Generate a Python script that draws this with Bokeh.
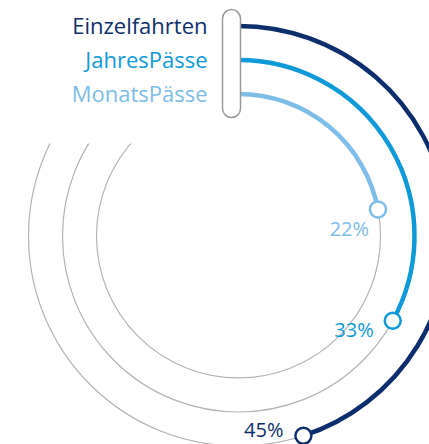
import math
from bokeh.plotting import figure
from bokeh.models import Range1d
from bokeh.core.properties import value
from bokeh.embed import file_html
from bokeh.resources import INLINE

# ---- data ----
categories = ["Einzelfahrten", "JahresPässe", "MonatsPässe"]
shares = [45, 33, 22]          # percent
pct_labels = ["45%", "33%", "22%"]
colors = ["#0d2e6c", "#0e9ad8", "#7dbde8"]

# ---- layout (pixels) ----
W, H = 429, 444
cx_px, cy_px = 238, 235.5       # circle centre inside the figure
radii = [210, 176, 142]
track_color = "#b3b3b3"
FONT = "Open Sans"

p = figure(width=W, height=H, output_backend="svg", toolbar_location=None,
           x_range=Range1d(-cx_px, W - cx_px), y_range=Range1d(-(H - cy_px), cy_px),
           min_border=0, outline_line_color=None)
p.axis.visible = False
p.grid.visible = False
p.background_fill_color = "white"
p.border_fill_color = "white"

# grey tracks (full circles, top-left hidden by a white mask)
for r in radii:
    p.circle(x=0, y=0, radius=r, fill_color=None, line_color=track_color, line_width=1.2)
mask_top_px = 143  # tracks become visible below this screen row
p.quad(left=-cx_px - 5, right=0, bottom=cy_px - mask_top_px, top=cy_px + 5,
       fill_color="white", line_color=None)

# coloured value arcs
for r, s, c in zip(radii, shares, colors):
    start = math.pi / 2
    end = math.pi / 2 - s / 100 * 2 * math.pi
    p.arc(x=0, y=0, radius=r, start_angle=start, end_angle=end, direction="clock",
          line_color=c, line_width=4.5)

# rounded bracket box
p.rect(x=-7, y=cy_px - 63, width=18, height=108, border_radius=9,
       fill_color="white", line_color="#9a9a9a", line_width=1.5)

# end dots and percentage labels
LABEL_OFF = 21
LABEL_ROT = math.radians(126)
for r, s, c, lab in zip(radii, shares, colors, pct_labels):
    th = math.pi / 2 - s / 100 * 2 * math.pi
    dx, dy = r * math.cos(th), r * math.sin(th)
    p.scatter(x=[dx], y=[dy], marker="circle", size=16,
              fill_color="white", line_color=c, line_width=2.5)
    lx = dx + LABEL_OFF * math.cos(th - LABEL_ROT)
    ly = dy + LABEL_OFF * math.sin(th - LABEL_ROT)
    p.text(x=[lx], y=[ly], text=[lab],
           text_align="right", text_baseline="middle", text_color=c,
           text_font=value(FONT), text_font_size="20px")

# category labels
for r, name, c in zip(radii, categories, colors):
    p.text(x=[-31], y=[r + 1], text=[name], text_align="right", text_baseline="middle",
           text_color=c, text_font=value(FONT), text_font_size="22px")

open("out.html", "w").write(file_html(p, INLINE))
